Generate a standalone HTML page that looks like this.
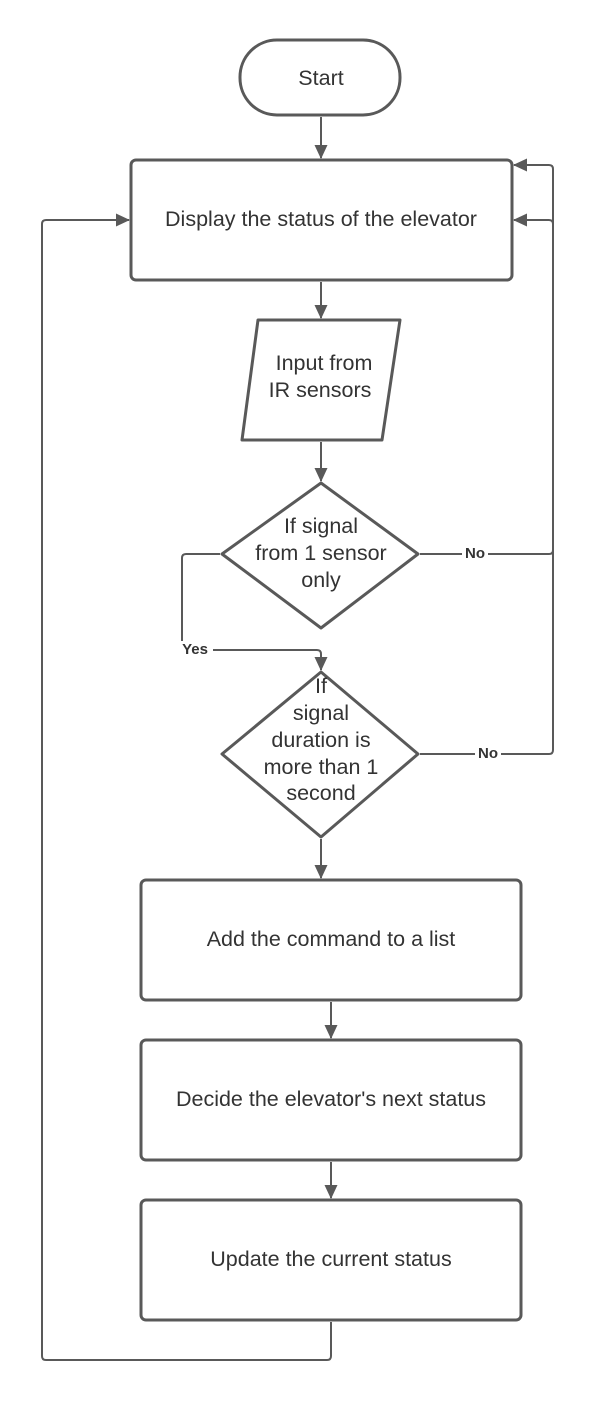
<!DOCTYPE html>
<html><head><style>html,body{margin:0;padding:0;background:#fff}svg{display:block}text{font-family:"Liberation Sans",sans-serif;fill:#333}</style></head>
<body>
<svg width="594" height="1403" viewBox="0 0 594 1403" xmlns="http://www.w3.org/2000/svg">
<defs><marker id="a" markerWidth="14" markerHeight="14" refX="13" refY="6.5" orient="auto" markerUnits="userSpaceOnUse"><path d="M0,0 L14,6.5 L0,13 z" fill="#595959"/></marker></defs>
<g fill="none" stroke="#595959" stroke-width="3" stroke-linejoin="round">
<rect x="240" y="40" width="160" height="75" rx="37"/>
<rect x="131" y="160" width="381" height="120" rx="5"/>
<path d="M258,320 L400,320 L382,440 L242,440 Z"/>
<path d="M321,483 L418,554 L321,628 L222,554 Z"/>
<path d="M321,672 L418,754 L321,837 L222,754 Z"/>
<rect x="141" y="880" width="380" height="120" rx="5"/>
<rect x="141" y="1040" width="380" height="120" rx="5"/>
<rect x="141" y="1200" width="380" height="120" rx="5"/>
</g>
<g fill="none" stroke="#595959" stroke-width="2" marker-end="url(#a)">
<path d="M321,117 V158"/>
<path d="M321,282 V318"/>
<path d="M321,442 V481"/>
<path d="M321,839 V878"/>
<path d="M331,1002 V1038"/>
<path d="M331,1162 V1198"/>
<path d="M420,554 H549 Q553,554 553,550 V169 Q553,165 549,165 H514"/>
<path d="M420,754 H549 Q553,754 553,750 V224 Q553,220 549,220 H514"/>
<path d="M220,554 H186 Q182,554 182,558 V650 H317 Q321,650 321,654 V670"/>
<path d="M331,1322 V1356 Q331,1360 327,1360 H46 Q42,1360 42,1356 V224 Q42,220 46,220 H129"/>
</g>
<g font-size="21.5" text-anchor="middle">
<text x="321" y="85">Start</text>
<text x="321" y="226">Display the status of the elevator</text>
<text x="324" y="370">Input from</text>
<text x="320" y="397">IR sensors</text>
<text x="321" y="533">If signal</text>
<text x="321" y="560">from 1 sensor</text>
<text x="321" y="587">only</text>
<text x="321" y="693">If</text>
<text x="321" y="720">signal</text>
<text x="321" y="747">duration is</text>
<text x="321" y="774">more than 1</text>
<text x="321" y="800">second</text>
<text x="331" y="946">Add the command to a list</text>
<text x="331" y="1106">Decide the elevator's next status</text>
<text x="331" y="1266">Update the current status</text>
</g>
<g font-size="15" font-weight="bold" text-anchor="middle">
<rect x="462" y="545" width="26" height="16" fill="#fff"/>
<text x="475" y="558">No</text>
<rect x="475" y="745" width="26" height="16" fill="#fff"/>
<text x="488" y="758">No</text>
<rect x="177" y="641" width="36" height="16" fill="#fff"/>
<text x="195" y="654">Yes</text>
</g>
</svg>
</body></html>
